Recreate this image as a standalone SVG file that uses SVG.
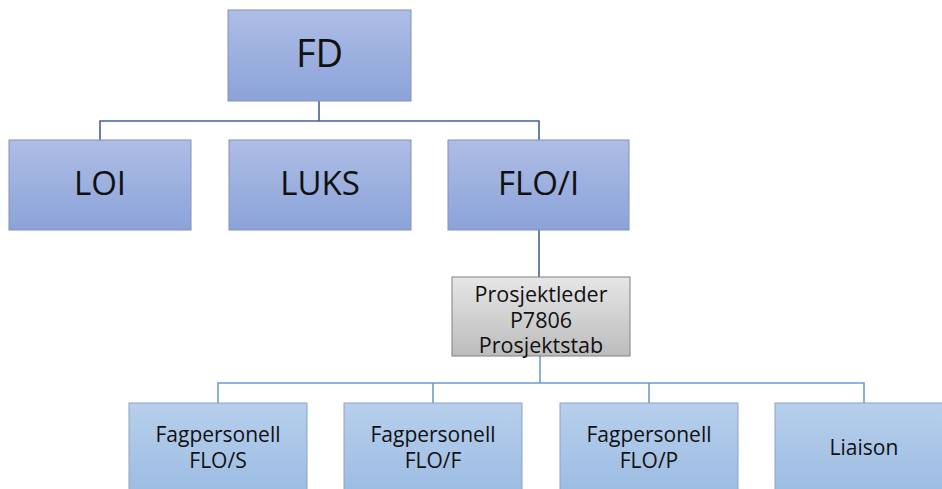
<svg xmlns="http://www.w3.org/2000/svg" width="942" height="489" viewBox="0 0 942 489">
  <defs>
    <linearGradient id="gTop" x1="0" y1="0" x2="0" y2="1">
      <stop offset="0" stop-color="#aebde5"/>
      <stop offset="1" stop-color="#8ba3d9"/>
    </linearGradient>
    <linearGradient id="gSub" x1="0" y1="0" x2="0" y2="1">
      <stop offset="0" stop-color="#b7cfec"/>
      <stop offset="1" stop-color="#9bbbe2"/>
    </linearGradient>
    <linearGradient id="gGray" x1="0" y1="0" x2="0" y2="1">
      <stop offset="0" stop-color="#e6e6e6"/>
      <stop offset="1" stop-color="#bcbcbc"/>
    </linearGradient>
  </defs>
  <style>
    .top { fill: url(#gTop); stroke: #8391b8; stroke-width: 1; }
    .sub { fill: url(#gSub); stroke: #8ea3bf; stroke-width: 1; }
    .gray { fill: url(#gGray); stroke: #808080; stroke-width: 1; }
    text { font-family: "Open Sans", "Noto Sans", sans-serif; fill: #111; text-anchor: middle; }
    .big { font-size: 33px; }
    .small { font-size: 21px; }
    .c1 { fill: none; stroke: #41629b; stroke-width: 1.6; }
    .c2 { fill: none; stroke: #6e9bd2; stroke-width: 1.6; }
  </style>

  <g id="connectors">
    <path class="c1" d="M319,101 V121 M100,140 V121 H539 V140 M539,230 V277"/>
    <path class="c2" d="M540,356 V383 M218,403 V383 H864 V403 M433,383 V403 M649,383 V403"/>
  </g>

  <g id="node-fd">
    <rect class="top" x="228" y="10" width="183" height="91"/>
    <text class="big" x="319.5" y="67" style="font-size:38px">FD</text>
  </g>
  <g id="node-loi">
    <rect class="top" x="9" y="140" width="182" height="90"/>
    <text class="big" x="100" y="195">LOI</text>
  </g>
  <g id="node-luks">
    <rect class="top" x="229" y="140" width="182" height="90"/>
    <text class="big" x="320" y="195">LUKS</text>
  </g>
  <g id="node-floi">
    <rect class="top" x="448" y="140" width="181" height="90"/>
    <text class="big" x="538.5" y="195">FLO/I</text>
  </g>

  <g id="node-prosjektleder">
    <rect class="gray" x="452" y="277" width="178" height="79"/>
    <text class="small" x="541" y="302" style="font-size:21.5px">Prosjektleder</text>
    <text class="small" x="541" y="328" style="font-size:21.5px">P7806</text>
    <text class="small" x="541" y="353" style="font-size:21.5px">Prosjektstab</text>
  </g>

  <g id="node-flos">
    <rect class="sub" x="129" y="403" width="178" height="95"/>
    <text class="small" x="218" y="442">Fagpersonell</text>
    <text class="small" x="218" y="468">FLO/S</text>
  </g>
  <g id="node-flof">
    <rect class="sub" x="344" y="403" width="178" height="95"/>
    <text class="small" x="433" y="442">Fagpersonell</text>
    <text class="small" x="433" y="468">FLO/F</text>
  </g>
  <g id="node-flop">
    <rect class="sub" x="560" y="403" width="178" height="95"/>
    <text class="small" x="649" y="442">Fagpersonell</text>
    <text class="small" x="649" y="468">FLO/P</text>
  </g>
  <g id="node-liaison">
    <rect class="sub" x="775" y="403" width="178" height="95"/>
    <text class="small" x="864" y="455">Liaison</text>
  </g>
</svg>
